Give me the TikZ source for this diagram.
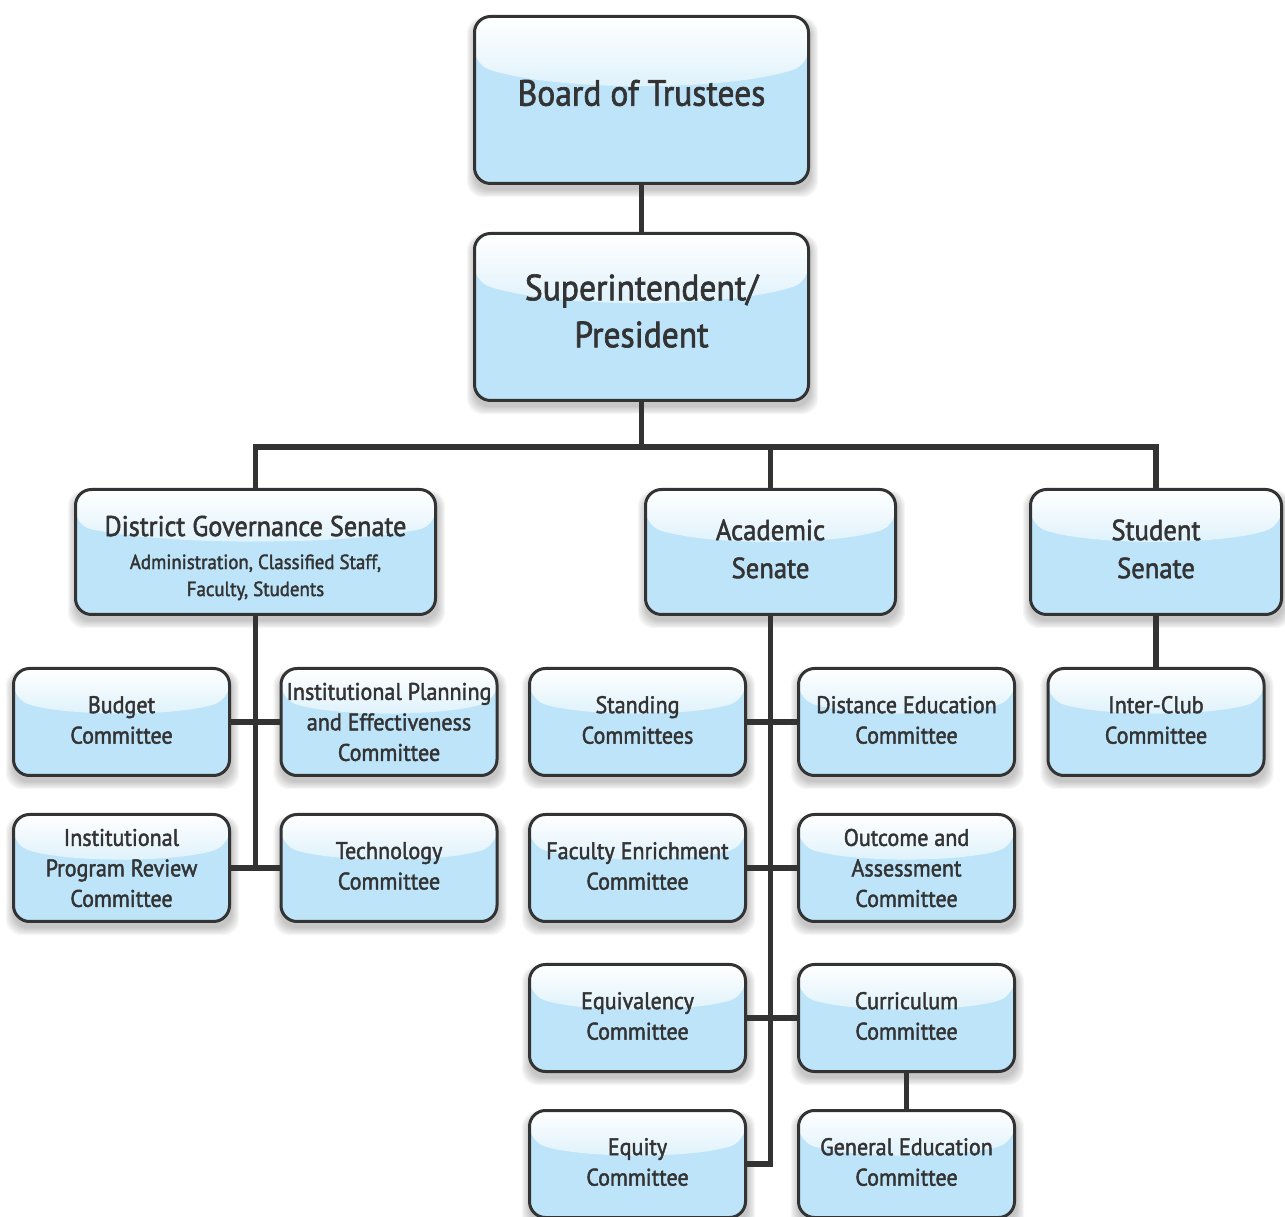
\documentclass[tikz,border=0pt]{standalone}
\usepackage{fontspec}
\setmainfont{PT Sans}[FakeStretch=0.92, FakeBold=1.8]
\usetikzlibrary{calc,backgrounds}
\definecolor{ink}{HTML}{333333}
\definecolor{boxblue}{HTML}{BDE4F8}
\definecolor{glossblue}{HTML}{DDF1FB}
\newcommand\fsz[2]{\fontsize{#1}{#2}\selectfont}
\tikzset{
  orgbox/.style={draw=ink, line width=3pt, fill=boxblue, rounded corners=16pt, inner sep=0pt,
    path picture={
      \coordinate (pNW) at (path picture bounding box.north west);
      \coordinate (pNE) at (path picture bounding box.north east);
      \coordinate (pSW) at (path picture bounding box.south west);
      \coordinate (pSE) at (path picture bounding box.south east);
      \coordinate (gl) at ($(pNW)!0.29!(pSW)$);
      \coordinate (gr) at ($(pNE)!0.29!(pSE)$);
      \coordinate (gl2) at ($(pNW)!0.45!(pSW)$);
      \coordinate (gr2) at ($(pNE)!0.45!(pSE)$);
      \fill[top color=white, bottom color=glossblue]
        (pNW) -- (gl) .. controls ($(gl2)!0.25!(gr2)$) and ($(gl2)!0.75!(gr2)$) .. (gr) -- (pNE) -- cycle;
    }},
  conn/.style={draw=ink, line width=5.5pt},
  lbl/.style={text=ink, align=center, inner sep=0pt},
  big/.style={font=\fsz{36.5}{47}, yshift=6pt},
  mid/.style={font=\fsz{29}{38}, yshift=3pt},
  small/.style={font=\fsz{24}{30.5}, yshift=2pt},
}
\newcommand\orgnode[7]{%
  \node[orgbox, minimum width=#4, minimum height=#5] (#1) at (#2,#3) {};
  \node[lbl, #6] (#1-t) at (#1.center) {#7};
}
\begin{document}
\begin{tikzpicture}[x=1pt,y=1pt]
\useasboundingbox (0,0) rectangle (1285,1216);
% top
\orgnode{board}{641.5}{1116}{334}{167}{big, yshift=1pt}{Board of Trustees}
\orgnode{super}{641.5}{899}{334}{167}{big}{Superintendent/\\President}
% senates
\orgnode{dgs}{255.5}{664}{360}{125}{font=\fsz{20.5}{27}, yshift=-6pt}{{\fsz{28.5}{33}District Governance Senate}\\[6pt]Administration, Classified Staff,\\Faculty, Students}
\orgnode{aca}{770.5}{664}{250}{125}{mid}{Academic\\Senate}
\orgnode{stu}{1156}{664}{251}{125}{mid}{Student\\Senate}
% district governance committees
\orgnode{budget}{121.5}{494}{216}{107}{small}{Budget\\Committee}
\orgnode{ipe}{389}{494}{216}{107}{small, yshift=-2pt}{Institutional Planning\\and Effectiveness\\Committee}
\orgnode{iprc}{121.5}{348}{216}{107}{small, yshift=-2pt}{Institutional\\Program Review\\Committee}
\orgnode{tech}{389}{348}{216}{107}{small}{Technology\\Committee}
% academic senate committees
\orgnode{stand}{637.5}{494}{216}{107}{small}{Standing\\Committees}
\orgnode{dist}{906.5}{494}{216}{107}{small}{Distance Education\\Committee}
\orgnode{fac}{637.5}{348}{216}{107}{small}{Faculty Enrichment\\Committee}
\orgnode{out}{906.5}{348}{216}{107}{small, yshift=-2pt}{Outcome and\\Assessment\\Committee}
\orgnode{equiv}{637.5}{198}{216}{107}{small}{Equivalency\\Committee}
\orgnode{curr}{906.5}{198}{216}{107}{small}{Curriculum\\Committee}
\orgnode{equity}{637.5}{52}{216}{107}{small}{Equity\\Committee}
\orgnode{gened}{906.5}{52}{216}{107}{small}{General Education\\Committee}
% student senate committee
\orgnode{inter}{1156}{494}{216}{107}{small}{Inter-Club\\Committee}

\coordinate (bus) at (641.5,769);
\begin{pgfonlayer}{background}
  \foreach \n in {board,super,dgs,aca,stu,budget,ipe,iprc,tech,stand,dist,fac,out,equiv,curr,equity,gened,inter}{
    \foreach \i in {0,...,6}{
      \fill[black, opacity=0.035, rounded corners=16pt]
        ($(\n.south west)+(-\i*1.2pt+1pt,-\i*1.2pt-5pt)$) rectangle ($(\n.north east)+(\i*1.2pt+1pt,\i*0.6pt-6pt)$);
    }
  }
  \draw[conn] (board.south) -- (super.north);
  \draw[conn] (super.south) -- (bus);
  \draw[conn] (dgs.north) -- (dgs.north |- bus) -- (stu.north |- bus) -- (stu.north);
  \draw[conn] (aca.north) -- (aca.north |- bus);
  % district governance
  \draw[conn] (dgs.south) -- (dgs.south |- iprc.east);
  \draw[conn] (budget.east) -- (ipe.west);
  \draw[conn] (iprc.east) -- (tech.west);
  % academic
  \draw[conn] (aca.south) -- (aca.south |- equity.east) -- (equity.east);
  \draw[conn] (stand.east) -- (dist.west);
  \draw[conn] (fac.east) -- (out.west);
  \draw[conn] (equiv.east) -- (curr.west);
  \draw[conn] (curr.south) -- (gened.north);
  % student
  \draw[conn] (stu.south) -- (inter.north);
\end{pgfonlayer}
\end{tikzpicture}
\end{document}
